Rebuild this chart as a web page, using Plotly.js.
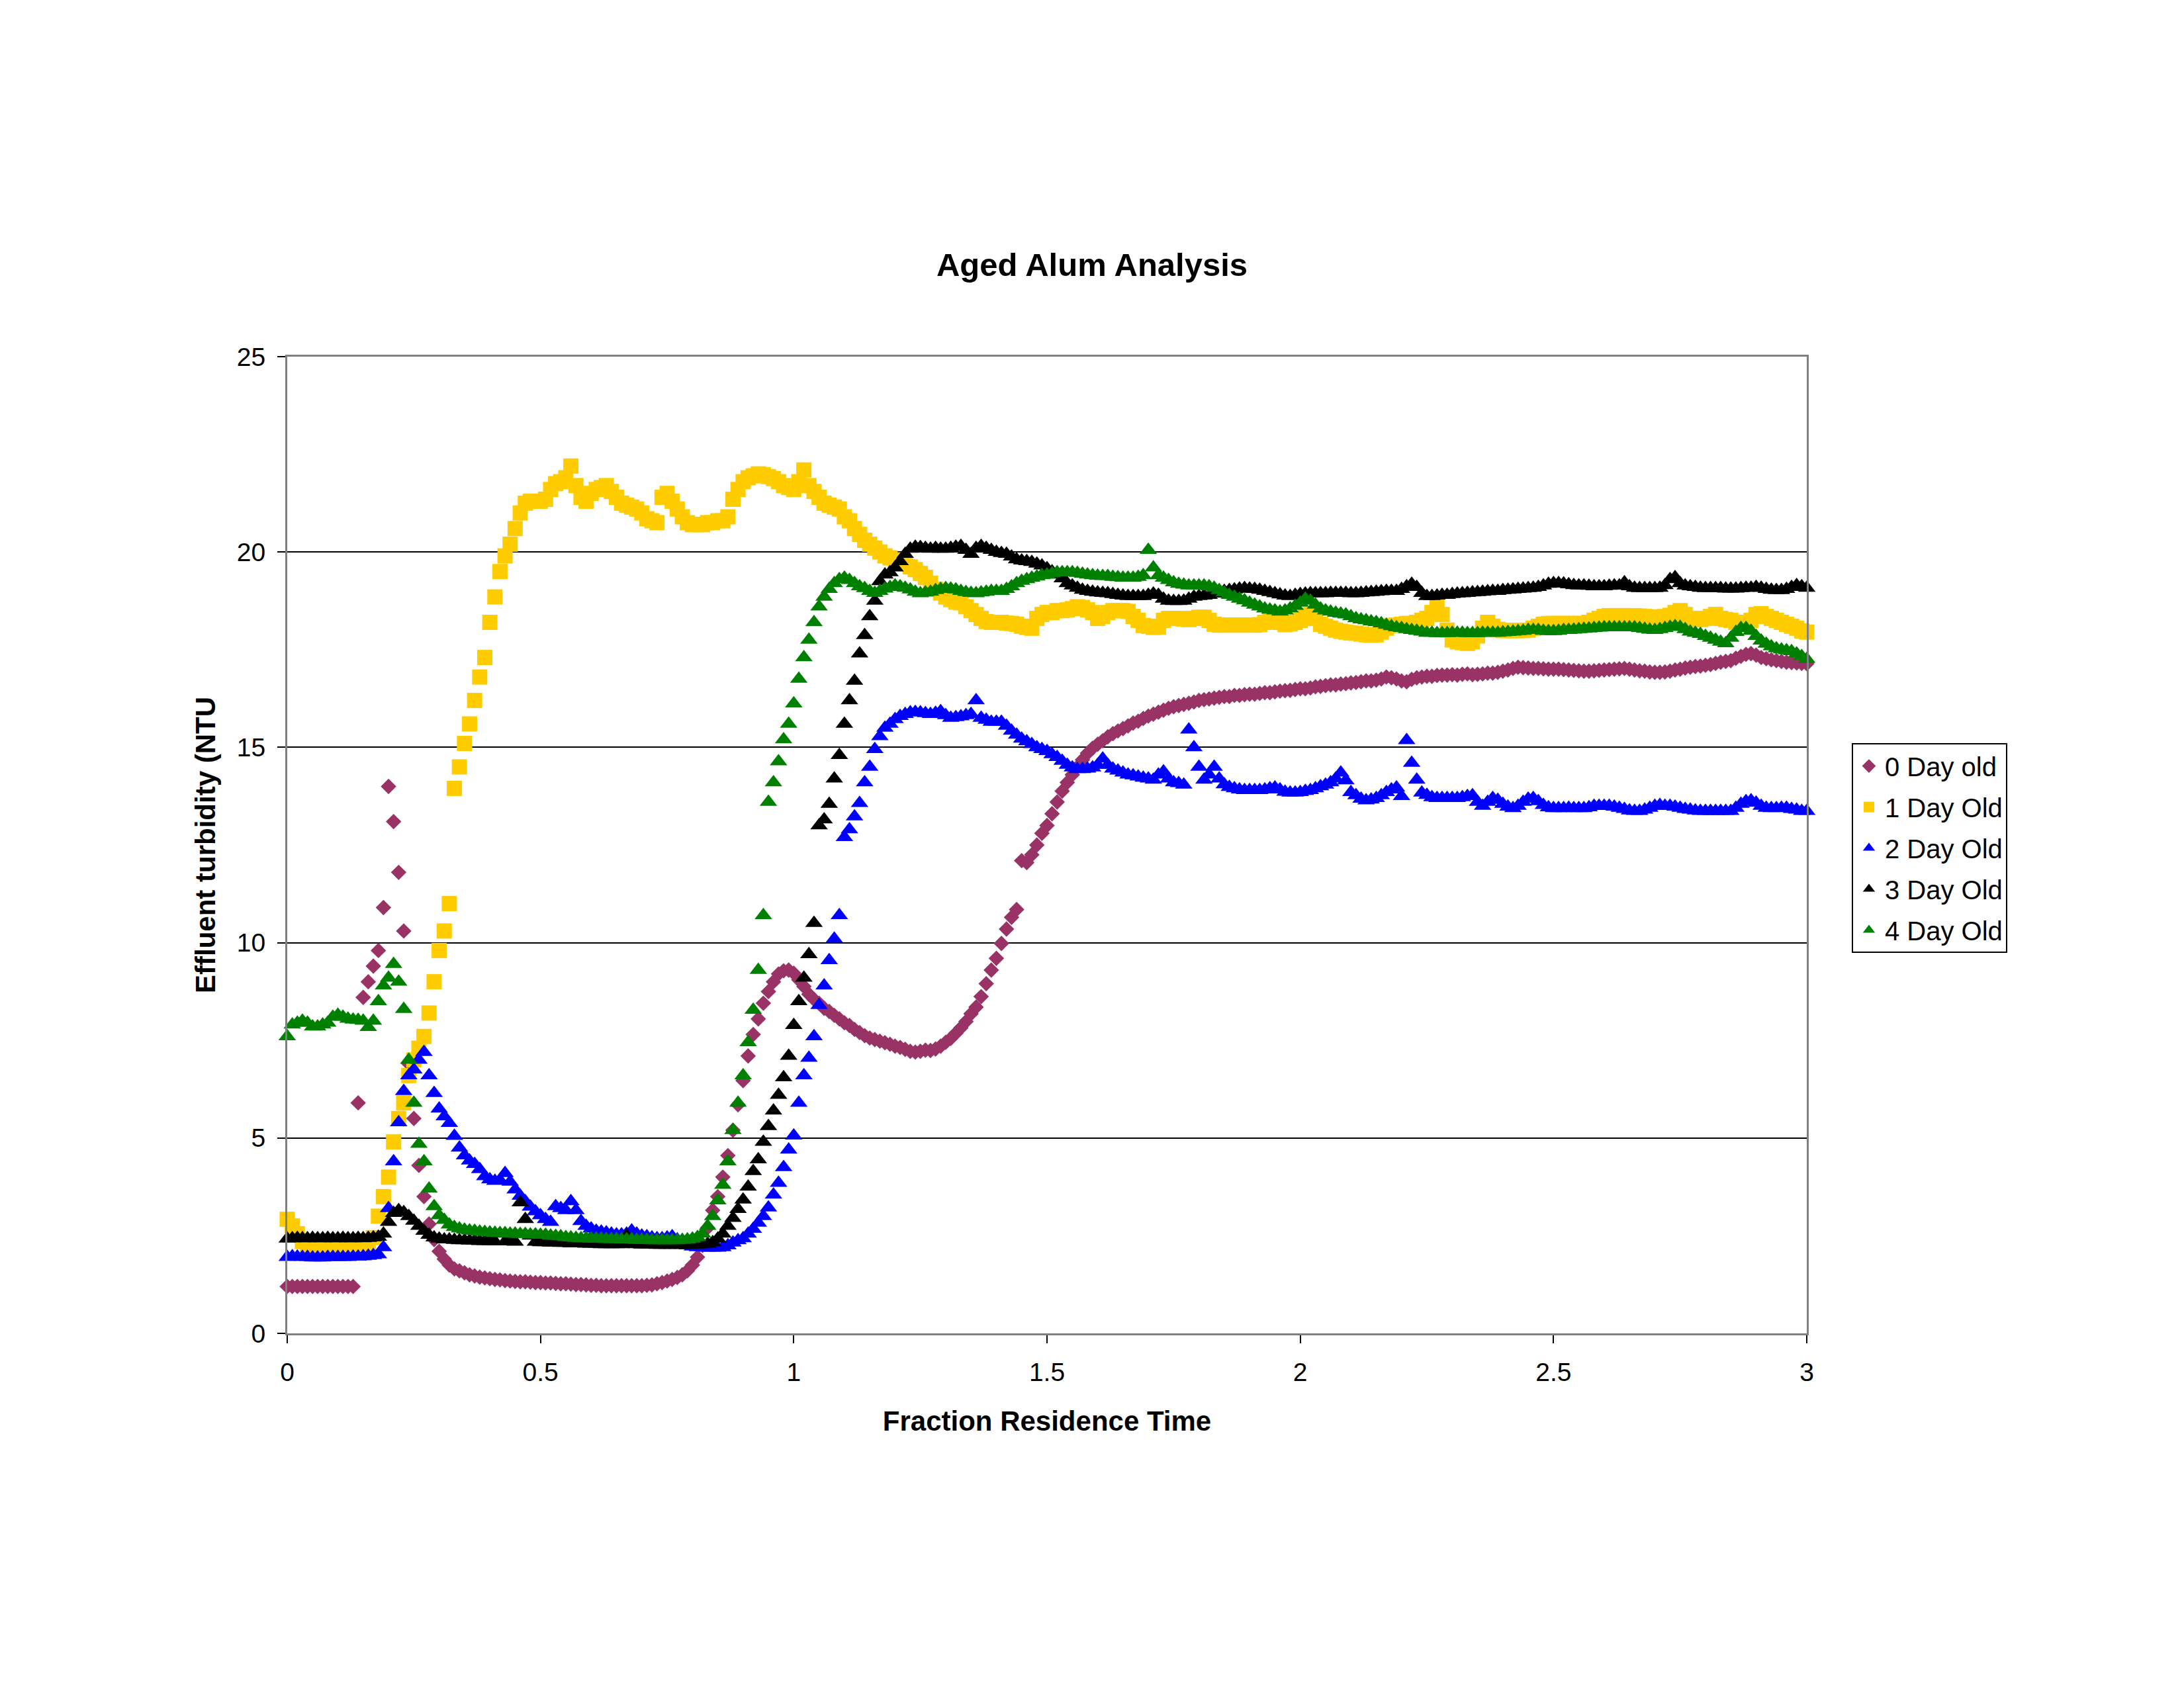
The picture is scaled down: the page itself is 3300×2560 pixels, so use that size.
<!DOCTYPE html>
<html>
<head>
<meta charset="utf-8">
<script src="https://cdn.plot.ly/plotly-3.0.1.min.js"></script>
<style>
  html, body { margin: 0; padding: 0; background: #ffffff; }
  #chart { width: 3300px; height: 2560px; }
</style>
</head>
<body>
<div id="chart"></div>
<script>
// samples are taken every 0.01 of the residence time, starting at 0
const sampleStart = 0;
const sampleStep = 0.01;

const seriesNames = ["0 Day old", "1 Day Old", "2 Day Old", "3 Day Old", "4 Day Old"];

// one row = 10 samples (0.1 of residence time)
const zeroDayOld = [
  1.2,1.2,1.2,1.2,1.2,1.2,1.2,1.2,1.2,1.2,
  1.2,1.2,1.2,1.2,5.9,8.6,9.0,9.4,9.8,10.9,
  14.0,13.1,11.8,10.3,6.9,5.5,4.3,3.5,2.8,2.4,
  2.1,1.9,1.75,1.65,1.6,1.55,1.5,1.47,1.44,1.42,
  1.4,1.38,1.37,1.35,1.34,1.33,1.32,1.32,1.31,1.3,
  1.3,1.29,1.29,1.28,1.27,1.27,1.26,1.25,1.25,1.24,
  1.23,1.23,1.22,1.22,1.22,1.22,1.22,1.22,1.22,1.22,
  1.22,1.23,1.24,1.27,1.3,1.34,1.38,1.43,1.5,1.6,
  1.75,1.95,2.25,2.7,3.15,3.5,4.0,4.55,5.2,5.85,
  6.47,7.1,7.65,8.05,8.45,8.75,9.0,9.2,9.28,9.3,
  9.22,9.05,8.88,8.68,8.55,8.45,8.32,8.24,8.14,8.05,
  7.95,7.88,7.78,7.7,7.62,7.56,7.52,7.48,7.44,7.4,
  7.35,7.32,7.27,7.22,7.2,7.22,7.25,7.24,7.28,7.35,
  7.45,7.55,7.68,7.82,7.98,8.18,8.35,8.62,8.95,9.3,
  9.6,9.98,10.35,10.65,10.85,12.1,12.05,12.25,12.5,12.8,
  13.0,13.3,13.6,13.88,14.1,14.3,14.5,14.68,14.85,14.98,
  15.08,15.17,15.27,15.35,15.42,15.48,15.55,15.62,15.67,15.74,
  15.8,15.85,15.9,15.95,16.0,16.04,16.07,16.1,16.13,16.16,
  16.2,16.22,16.24,16.26,16.28,16.3,16.3,16.33,16.33,16.35,
  16.36,16.36,16.38,16.4,16.4,16.42,16.44,16.45,16.46,16.48,
  16.5,16.5,16.52,16.55,16.56,16.58,16.6,16.6,16.62,16.63,
  16.65,16.66,16.68,16.7,16.7,16.72,16.75,16.8,16.78,16.75,
  16.7,16.68,16.74,16.78,16.8,16.82,16.82,16.84,16.85,16.85,
  16.86,16.85,16.87,16.88,16.86,16.87,16.88,16.9,16.9,16.92,
  16.95,16.98,17.02,17.05,17.04,17.03,17.02,17.02,17.01,17.0,
  17.0,17.0,16.99,16.98,16.97,16.96,16.95,16.95,16.96,16.97,
  16.98,16.99,17.0,17.01,17.02,17.0,16.98,16.96,16.95,16.93,
  16.92,16.92,16.93,16.95,16.98,17.0,17.03,17.05,17.07,17.08,
  17.1,17.12,17.15,17.18,17.2,17.22,17.28,17.33,17.38,17.4,
  17.36,17.3,17.27,17.24,17.22,17.2,17.18,17.17,17.16,17.15,
  17.14
];

const oneDayOld = [
  2.92,2.75,2.55,2.35,2.25,2.2,2.18,2.17,2.16,2.15,
  2.15,2.15,2.14,2.14,2.14,2.15,2.2,2.45,3.0,3.5,
  4.0,4.9,5.5,5.9,6.6,7.0,7.3,7.6,8.2,9.0,
  9.8,10.3,11.0,13.95,14.5,15.1,15.6,16.2,16.8,17.3,
  18.2,18.85,19.5,19.9,20.2,20.6,21.0,21.25,21.3,21.3,
  21.3,21.35,21.6,21.75,21.8,21.9,22.2,21.7,21.4,21.3,
  21.5,21.6,21.65,21.7,21.55,21.4,21.25,21.2,21.15,21.1,
  21.0,20.85,20.8,20.75,21.4,21.5,21.3,21.1,20.9,20.75,
  20.7,20.7,20.7,20.75,20.75,20.8,20.8,20.9,21.35,21.6,
  21.8,21.9,21.95,22.0,21.98,21.93,21.88,21.8,21.7,21.65,
  21.6,21.8,22.1,21.7,21.55,21.4,21.25,21.2,21.15,21.1,
  20.9,20.8,20.6,20.45,20.3,20.2,20.1,20.0,19.9,19.85,
  19.8,19.78,19.7,19.62,19.55,19.45,19.35,19.2,19.05,18.95,
  18.85,18.78,18.72,18.7,18.6,18.5,18.4,18.3,18.22,18.2,
  18.2,18.2,18.18,18.17,18.15,18.1,18.07,18.05,18.3,18.4,
  18.45,18.45,18.5,18.5,18.52,18.55,18.6,18.58,18.52,18.45,
  18.3,18.35,18.45,18.5,18.5,18.5,18.48,18.35,18.25,18.12,
  18.1,18.07,18.08,18.25,18.3,18.3,18.3,18.28,18.27,18.3,
  18.33,18.33,18.25,18.15,18.13,18.13,18.13,18.13,18.13,18.13,
  18.13,18.13,18.14,18.2,18.25,18.27,18.2,18.14,18.16,18.2,
  18.25,18.35,18.4,18.3,18.15,18.1,18.05,18.0,17.97,17.95,
  17.93,17.92,17.9,17.88,17.87,17.88,17.95,18.05,18.12,18.13,
  18.15,18.17,18.17,18.2,18.25,18.3,18.45,18.6,18.4,18.0,
  17.75,17.7,17.68,17.66,17.7,17.85,18.05,18.2,18.1,18.02,
  17.99,17.99,17.99,17.99,17.99,18.0,18.05,18.1,18.15,18.17,
  18.17,18.17,18.17,18.17,18.17,18.17,18.17,18.2,18.25,18.3,
  18.35,18.37,18.37,18.37,18.37,18.37,18.37,18.36,18.35,18.34,
  18.33,18.33,18.35,18.38,18.45,18.5,18.4,18.3,18.27,18.27,
  18.3,18.35,18.4,18.3,18.27,18.25,18.2,18.13,18.15,18.25,
  18.4,18.42,18.35,18.3,18.25,18.2,18.15,18.1,18.05,17.98,
  17.95
];

const twoDayOld = [
  1.95,1.97,1.96,1.95,1.95,1.94,1.94,1.94,1.95,1.95,
  1.95,1.95,1.95,1.96,1.96,1.97,1.98,2.0,2.02,2.2,
  3.2,4.4,5.4,6.2,6.6,6.75,7.0,7.2,6.6,6.15,
  5.75,5.55,5.38,5.05,4.75,4.55,4.42,4.33,4.2,4.02,
  3.94,3.9,3.92,4.1,3.88,3.68,3.52,3.38,3.24,3.12,
  3.02,2.92,2.85,3.25,3.2,3.15,3.38,3.15,2.87,2.75,
  2.68,2.62,2.6,2.58,2.55,2.53,2.53,2.55,2.63,2.55,
  2.5,2.48,2.45,2.43,2.43,2.45,2.48,2.4,2.3,2.25,
  2.22,2.2,2.2,2.19,2.19,2.19,2.2,2.25,2.32,2.38,
  2.43,2.55,2.67,2.83,3.0,3.22,3.55,3.85,4.25,4.7,
  5.06,5.9,6.6,7.05,7.6,8.4,8.9,9.55,10.1,10.7,
  12.7,12.9,13.23,13.57,14.1,14.5,14.95,15.28,15.5,15.6,
  15.72,15.8,15.85,15.89,15.9,15.89,15.87,15.85,15.88,15.92,
  15.82,15.75,15.77,15.79,15.82,15.85,16.2,15.75,15.7,15.65,
  15.65,15.65,15.55,15.42,15.32,15.22,15.15,15.08,15.0,14.95,
  14.9,14.82,14.75,14.65,14.55,14.48,14.44,14.44,14.45,14.48,
  14.55,14.71,14.55,14.45,14.4,14.35,14.3,14.28,14.25,14.22,
  14.2,14.17,14.3,14.38,14.2,14.1,14.08,14.04,15.45,15.0,
  14.5,14.17,14.3,14.5,14.2,14.05,13.98,13.95,13.92,13.9,
  13.9,13.9,13.9,13.92,13.95,13.97,13.92,13.86,13.84,13.84,
  13.85,13.88,13.9,13.95,14.0,14.04,14.1,14.2,14.35,14.15,
  13.85,13.77,13.68,13.64,13.66,13.7,13.77,13.85,13.92,13.97,
  13.75,15.18,14.6,14.17,13.84,13.78,13.72,13.7,13.7,13.7,
  13.7,13.7,13.72,13.75,13.77,13.6,13.5,13.6,13.7,13.65,
  13.55,13.48,13.44,13.5,13.6,13.68,13.7,13.62,13.52,13.46,
  13.44,13.44,13.44,13.45,13.44,13.44,13.44,13.46,13.5,13.5,
  13.5,13.5,13.48,13.45,13.42,13.38,13.37,13.37,13.4,13.45,
  13.5,13.52,13.5,13.5,13.48,13.45,13.42,13.4,13.38,13.37,
  13.37,13.37,13.37,13.37,13.37,13.37,13.45,13.55,13.62,13.64,
  13.58,13.5,13.45,13.44,13.44,13.45,13.45,13.42,13.4,13.37,
  13.37
];

const threeDayOld = [
  2.42,2.43,2.44,2.43,2.43,2.44,2.43,2.43,2.44,2.43,
  2.43,2.44,2.43,2.43,2.44,2.43,2.44,2.45,2.47,2.55,
  2.85,3.08,3.15,3.1,3.0,2.88,2.75,2.62,2.52,2.45,
  2.42,2.4,2.4,2.39,2.38,2.38,2.37,2.37,2.36,2.36,
  2.36,2.35,2.55,2.35,2.35,2.34,3.35,2.92,2.5,2.34,
  2.33,2.33,2.32,2.32,2.31,2.31,2.3,2.3,2.3,2.29,
  2.29,2.29,2.28,2.28,2.28,2.28,2.28,2.5,2.3,2.28,
  2.27,2.27,2.27,2.26,2.26,2.26,2.26,2.26,2.26,2.26,
  2.27,2.27,2.28,2.29,2.33,2.42,2.55,2.75,2.95,3.18,
  3.42,3.75,4.15,4.45,4.9,5.3,5.7,6.1,6.55,7.1,
  7.89,8.5,9.1,9.7,10.5,13.0,13.15,13.55,14.2,14.8,
  15.6,16.2,16.7,17.4,17.87,18.35,18.75,19.25,19.42,19.48,
  19.6,19.76,19.95,20.08,20.13,20.12,20.1,20.08,20.1,20.08,
  20.08,20.1,20.13,20.15,20.05,19.95,20.1,20.15,20.1,20.05,
  20.0,19.97,19.95,19.88,19.81,19.78,19.76,19.74,19.7,19.65,
  19.58,19.5,19.42,19.32,19.2,19.14,19.08,19.03,19.0,18.98,
  18.96,18.95,18.94,18.92,18.9,18.88,18.87,18.87,18.87,18.87,
  18.9,18.93,18.9,18.8,18.75,18.74,18.74,18.75,18.8,18.85,
  18.87,18.88,18.9,18.93,18.97,19.0,19.02,19.04,19.06,19.07,
  19.06,19.05,19.03,19.0,18.97,18.94,18.91,18.88,18.87,18.9,
  18.92,18.93,18.94,18.94,18.94,18.94,18.95,18.95,18.95,18.95,
  18.94,18.94,18.95,18.96,18.97,18.98,18.99,19.0,19.0,19.0,
  19.05,19.12,19.18,19.1,18.95,18.87,18.87,18.88,18.9,18.9,
  18.92,18.93,18.94,18.95,18.96,18.97,18.98,18.99,19.0,19.0,
  19.02,19.03,19.04,19.05,19.06,19.07,19.08,19.1,19.14,19.18,
  19.2,19.2,19.19,19.17,19.15,19.14,19.14,19.13,19.12,19.12,
  19.12,19.13,19.14,19.14,19.22,19.12,19.08,19.07,19.07,19.07,
  19.07,19.08,19.15,19.3,19.35,19.2,19.14,19.12,19.1,19.08,
  19.07,19.07,19.07,19.07,19.06,19.06,19.06,19.07,19.08,19.08,
  19.1,19.08,19.05,19.03,19.02,19.02,19.05,19.1,19.15,19.12,
  19.08
];

const fourDayOld = [
  7.6,7.9,7.95,8.0,7.95,7.85,7.85,7.9,7.95,8.1,
  8.15,8.1,8.05,8.03,8.02,8.0,7.84,8.0,8.5,8.9,
  9.1,9.45,9.0,8.3,7.0,5.9,4.85,4.4,3.7,3.25,
  3.02,2.9,2.78,2.72,2.68,2.65,2.63,2.62,2.6,2.59,
  2.58,2.57,2.56,2.56,2.55,2.55,2.54,2.54,2.53,2.53,
  2.52,2.52,2.5,2.49,2.48,2.46,2.45,2.44,2.43,2.43,
  2.42,2.42,2.42,2.41,2.41,2.41,2.4,2.4,2.4,2.39,
  2.39,2.39,2.38,2.38,2.38,2.38,2.38,2.38,2.39,2.4,
  2.42,2.46,2.55,2.75,3.0,3.4,3.8,4.4,5.2,5.9,
  6.6,7.45,8.28,9.3,10.7,13.6,14.1,14.64,15.2,15.6,
  16.12,16.75,17.3,17.75,18.2,18.6,18.85,19.05,19.2,19.3,
  19.34,19.28,19.2,19.12,19.07,19.0,18.95,19.0,19.06,19.1,
  19.14,19.12,19.08,19.04,18.98,18.94,18.96,18.98,19.02,19.05,
  19.07,19.06,19.04,19.0,18.97,18.95,18.94,18.96,18.98,19.0,
  19.0,19.0,19.05,19.12,19.2,19.26,19.3,19.34,19.37,19.4,
  19.42,19.45,19.48,19.48,19.48,19.48,19.46,19.44,19.42,19.4,
  19.39,19.38,19.38,19.36,19.35,19.34,19.34,19.34,19.36,19.4,
  20.05,19.6,19.4,19.34,19.28,19.22,19.18,19.16,19.14,19.14,
  19.14,19.14,19.12,19.08,19.02,18.96,18.9,18.85,18.8,18.76,
  18.7,18.65,18.6,18.55,18.52,18.5,18.47,18.5,18.55,18.62,
  18.7,18.8,18.75,18.65,18.55,18.5,18.47,18.44,18.42,18.4,
  18.35,18.3,18.27,18.25,18.22,18.2,18.17,18.13,18.1,18.07,
  18.05,18.02,18.0,17.98,17.96,17.93,17.93,17.92,17.92,17.92,
  17.93,17.93,17.93,17.92,17.92,17.92,17.93,17.93,17.93,17.93,
  17.94,17.95,17.96,17.97,17.98,18.0,18.0,18.0,17.98,17.97,
  17.97,17.98,18.0,18.0,18.01,18.02,18.03,18.04,18.05,18.06,
  18.07,18.07,18.07,18.07,18.07,18.07,18.07,18.05,18.03,18.01,
  18.0,18.02,18.05,18.08,18.1,18.08,18.02,17.96,17.93,17.9,
  17.85,17.8,17.75,17.7,17.66,17.8,17.95,18.05,18.05,17.98,
  17.85,17.73,17.65,17.58,17.53,17.5,17.48,17.46,17.4,17.33,
  17.26
];

const xTickVals = [0, 0.5, 1, 1.5, 2, 2.5, 3];
const xTickText = ["0", "0.5", "1", "1.5", "2", "2.5", "3"];
const yTickVals = [0, 5, 10, 15, 20, 25];

const FONT = "Liberation Sans, Arial, Helvetica, sans-serif";

function series(name, values, symbol, size, color, group) {
  return {
    type: "scatter",
    mode: "markers",
    name: name,
    y: values,
    x0: sampleStart,
    dx: sampleStep,
    legendgroup: group,
    cliponaxis: false,
    marker: { symbol: symbol, size: size, color: color, line: { width: 0 } }
  };
}

const data = [
  series(seriesNames[0], zeroDayOld, "diamond", 18, "#993366", "g0"),
  series(seriesNames[1], oneDayOld, "square", 23, "#FFCC00", "g1"),
  series(seriesNames[2], twoDayOld, "triangle-up", 23, "#0000FF", "g2"),
  series(seriesNames[3], threeDayOld, "triangle-up", 23, "#000000", "g3"),
  series(seriesNames[4], fourDayOld, "triangle-up", 23, "#008000", "g4")
];

const layout = {
  width: 3300,
  height: 2560,
  paper_bgcolor: "#ffffff",
  plot_bgcolor: "#ffffff",
  font: { family: FONT, color: "#000000", size: 39 },
  margin: { l: 434, r: 570, t: 539, b: 545, pad: 0 },
  title: {
    text: "<b>Aged Alum Analysis</b>",
    font: { family: FONT, size: 49, color: "#000000" },
    xref: "container", yref: "container",
    x: 0.5, y: 0.8437, xanchor: "center", yanchor: "middle"
  },
  xaxis: {
    range: [0, 3],
    tickmode: "array",
    tickvals: xTickVals,
    ticktext: xTickText,
    ticks: "outside", ticklen: 12, tickwidth: 2, tickcolor: "#000000",
    ticklabelstandoff: 10,
    tickfont: { family: FONT, size: 39 },
    showgrid: false, zeroline: false,
    showline: true, linecolor: "#808080", linewidth: 3, mirror: true,
    automargin: false,
    title: {
      text: "<b>Fraction Residence Time</b>",
      font: { family: FONT, size: 42 },
      standoff: 39
    }
  },
  yaxis: {
    range: [0, 25],
    tickmode: "array",
    tickvals: yTickVals,
    ticks: "outside", ticklen: 12, tickwidth: 2, tickcolor: "#000000",
    ticklabelstandoff: 10,
    tickfont: { family: FONT, size: 39 },
    showgrid: true, gridcolor: "#000000", gridwidth: 2,
    zeroline: false,
    showline: true, linecolor: "#808080", linewidth: 3, mirror: true,
    automargin: false,
    title: {
      text: "<b>Effluent turbidity (NTU</b>",
      font: { family: FONT, size: 42 },
      standoff: 20
    }
  },
  showlegend: true,
  legend: {
    x: 1.0296, xanchor: "left",
    y: 0.6043, yanchor: "top",
    bgcolor: "#ffffff",
    bordercolor: "#000000", borderwidth: 2,
    font: { family: FONT, size: 40, color: "#000000" },
    tracegroupgap: 7,
    itemwidth: 38,
    itemsizing: "trace"
  }
};

Plotly.newPlot("chart", data, layout, { staticPlot: true, displayModeBar: false });
</script>
</body>
</html>
